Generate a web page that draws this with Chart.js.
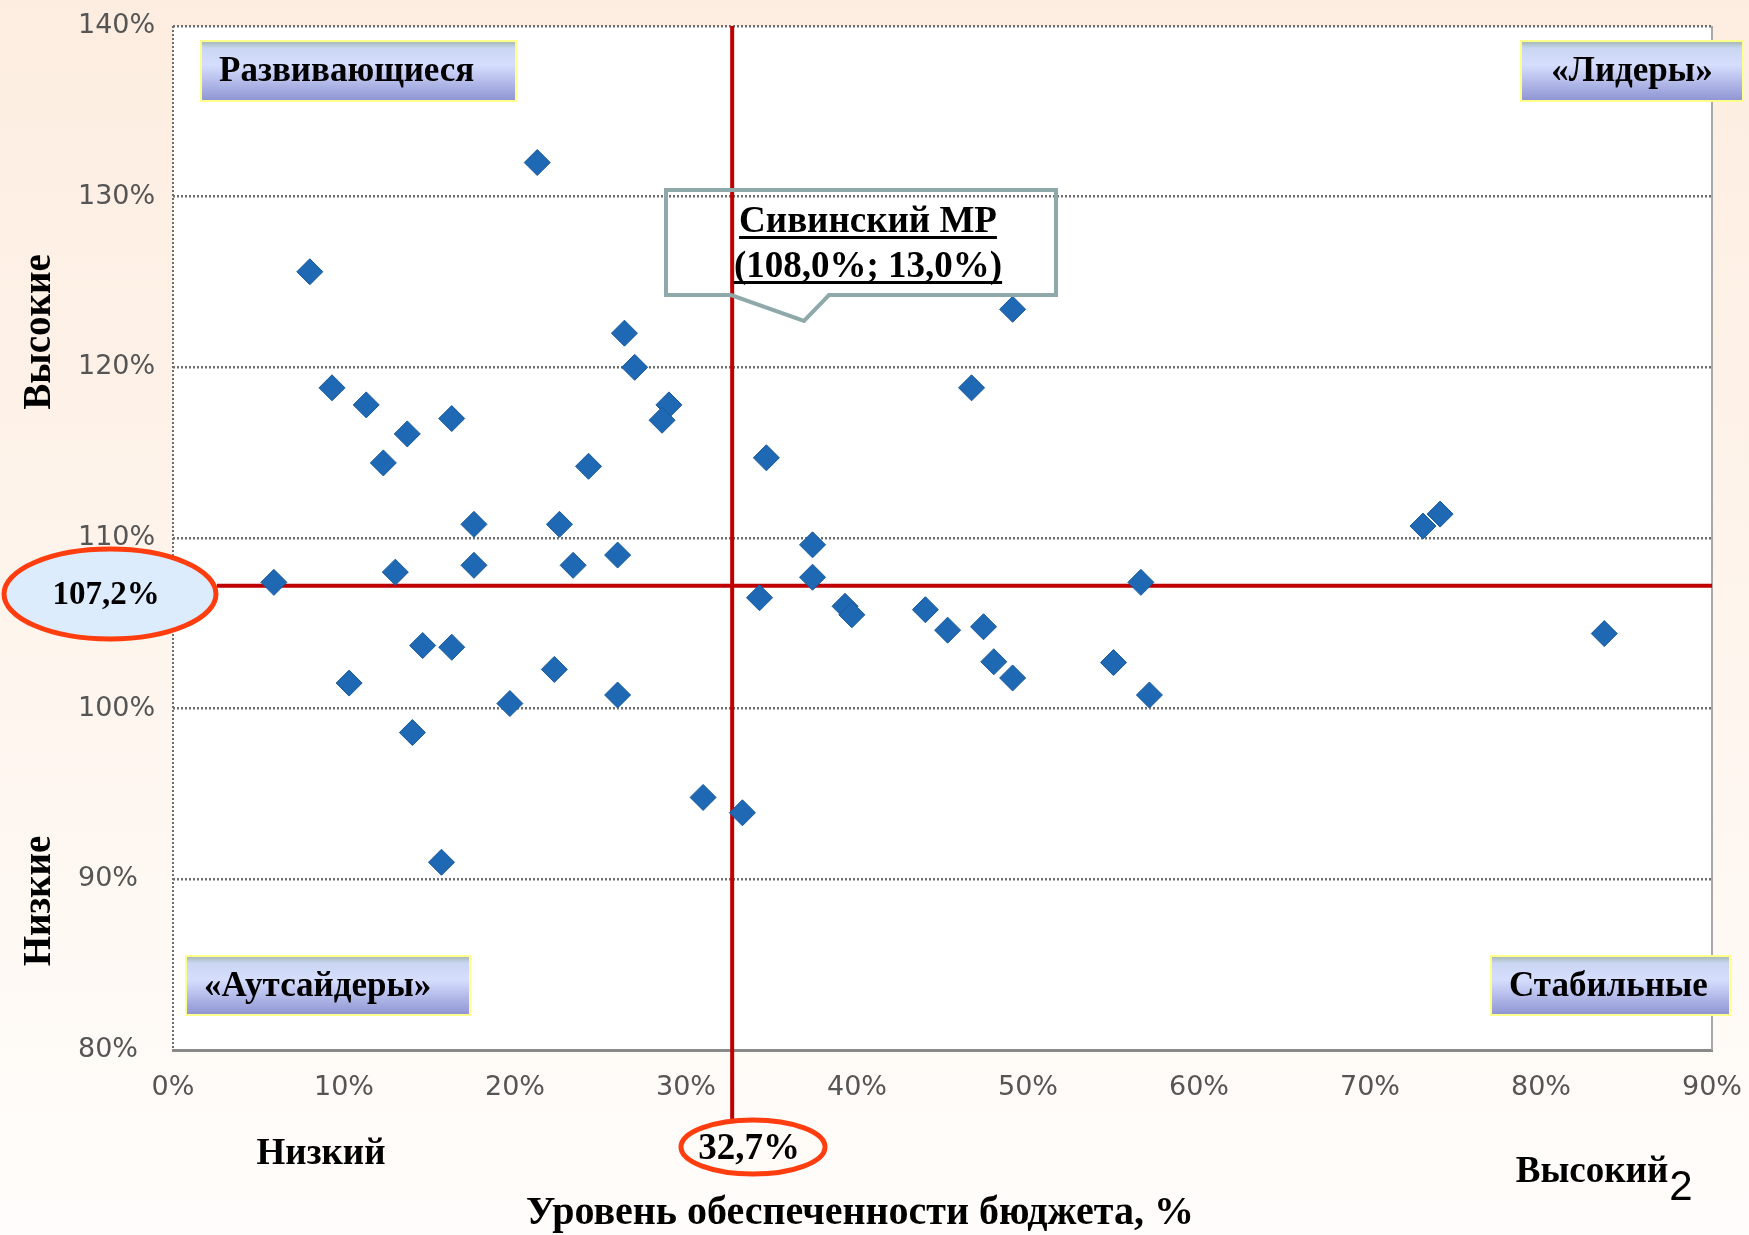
<!DOCTYPE html>
<html lang="ru">
<head>
<meta charset="utf-8">
<title>Уровень обеспеченности бюджета</title>
<script src="https://cdn.jsdelivr.net/npm/chart.js@4.4.0/dist/chart.umd.min.js"></script>
<style>
  html, body { margin: 0; padding: 0; background: #fef6ee; }
  #wrap { width: 1749px; height: 1235px; }
</style>
</head>
<body>
<div id="wrap"><canvas id="grafico" width="1749" height="1235"></canvas></div>
<script>
// Уровень обеспеченности бюджета, % (ось X)
const obespechennost = [
  8.0, 21.3, 9.3, 11.3, 13.7, 16.3, 12.3, 26.4, 27.0, 29.0, 28.6, 24.3,
  17.6, 22.6, 17.6, 13.0, 23.4, 26.0, 5.9, 14.6, 16.3, 10.3, 22.3, 19.7,
  26.0, 14.0, 15.7, 31.0, 33.3, 34.7, 34.3, 37.4, 37.4, 39.3, 39.7, 44.0,
  45.3, 47.4, 48.0, 49.1, 46.7, 49.1, 56.6, 55.0, 57.1, 73.1, 74.1, 83.7
];
// Темпы роста доходов, % (ось Y)
const tempRosta = [
  125.6, 132.0, 118.8, 117.8, 116.1, 117.0, 114.4, 122.0, 120.0, 117.8, 116.9, 114.2,
  110.8, 110.8, 108.4, 108.0, 108.4, 109.0, 107.4, 103.7, 103.6, 101.5, 102.3, 100.3,
  100.8, 98.6, 91.0, 94.8, 93.9, 114.7, 106.5, 109.6, 107.7, 106.0, 105.5, 105.8,
  104.6, 104.8, 102.75, 101.8, 118.8, 123.4, 107.4, 102.7, 100.8, 110.7, 111.4, 104.4
];
// Средние значения
const srednieX = 32.7;
const srednieY = 107.2;
const srednieXTekst = '32,7%';
const srednieYTekst = '107,2%';

// Оси
const xMin = 0, xMax = 90, xShag = 10;
const yMin = 80, yMax = 140, yShag = 10;

// Подписи квадрантов
const kvadranty = ['Развивающиеся', '«Лидеры»', '«Аутсайдеры»', 'Стабильные'];
const vynoska = ['Сивинский МР', '(108,0%; 13,0%)'];

const serif = '"Liberation Serif", "Times New Roman", serif';

// Фон слайда и белая область графика
const fonPlugin = {
  id: 'fon',
  beforeDraw(chart) {
    const {ctx, width, height, chartArea: a} = chart;
    const g = ctx.createLinearGradient(0, 0, 0, height);
    g.addColorStop(0, '#fdede0');
    g.addColorStop(0.6, '#fef6ef');
    g.addColorStop(1, '#fffdfb');
    ctx.save();
    ctx.fillStyle = g;
    ctx.fillRect(0, 0, width, height);
    ctx.fillStyle = '#ffffff';
    ctx.fillRect(a.left, a.top, a.right - a.left, a.bottom - a.top);
    ctx.restore();
  },
  beforeDatasetsDraw(chart) {
    const {ctx, chartArea: a, scales} = chart;
    const x0 = scales.x.getPixelForValue(srednieX);
    const y0 = scales.y.getPixelForValue(srednieY);
    ctx.save();
    // правая рамка
    ctx.strokeStyle = '#a9a9a9';
    ctx.lineWidth = 2;
    ctx.beginPath();
    ctx.moveTo(a.right, a.top);
    ctx.lineTo(a.right, a.bottom);
    ctx.stroke();
    // линии средних
    ctx.strokeStyle = '#c00000';
    ctx.lineWidth = 4;
    ctx.beginPath();
    ctx.moveTo(x0, a.top);
    ctx.lineTo(x0, 1120);
    ctx.moveTo(217, y0);
    ctx.lineTo(a.right, y0);
    ctx.stroke();
    ctx.restore();
  }
};

function plashka(ctx, x, y, w, h, tekst, poCentru) {
  const g = ctx.createLinearGradient(0, y, 0, y + h);
  g.addColorStop(0, '#a3b6ae');
  g.addColorStop(0.12, '#c9d6f2');
  g.addColorStop(0.4, '#d6defe');
  g.addColorStop(1, '#8d94d2');
  ctx.fillStyle = g;
  ctx.fillRect(x, y, w, h);
  ctx.strokeStyle = '#ffff8c';
  ctx.lineWidth = 2;
  ctx.strokeRect(x, y, w, h);
  ctx.fillStyle = '#000';
  ctx.font = 'bold 35px ' + serif;
  ctx.textBaseline = 'middle';
  if (poCentru) {
    ctx.textAlign = 'center';
    ctx.fillText(tekst, x + w / 2, y + h / 2 + 1);
  } else {
    ctx.textAlign = 'left';
    ctx.fillText(tekst, x + 18, y + h / 2 + 1);
  }
}

function podcherk(ctx, tekst, cx, baza) {
  ctx.fillText(tekst, cx, baza);
  const w = ctx.measureText(tekst).width;
  ctx.fillRect(cx - w / 2, baza + 4, w, 3);
}

const podpisiPlugin = {
  id: 'podpisi',
  afterDraw(chart) {
    const {ctx} = chart;
    ctx.save();

    // квадранты
    plashka(ctx, 201, 41, 315, 60, kvadranty[0], false);
    plashka(ctx, 1521, 41, 222, 60, kvadranty[1], true);
    plashka(ctx, 186, 956, 284, 59, kvadranty[2], false);
    plashka(ctx, 1491, 956, 239, 59, kvadranty[3], false);

    // выноска
    ctx.strokeStyle = '#8fa9ab';
    ctx.lineWidth = 4;
    ctx.beginPath();
    ctx.moveTo(666, 190);
    ctx.lineTo(1056, 190);
    ctx.lineTo(1056, 295);
    ctx.lineTo(829, 295);
    ctx.lineTo(804, 321);
    ctx.lineTo(731, 295);
    ctx.lineTo(666, 295);
    ctx.closePath();
    ctx.stroke();
    ctx.fillStyle = '#000';
    ctx.font = 'bold 37px ' + serif;
    ctx.textAlign = 'center';
    ctx.textBaseline = 'alphabetic';
    podcherk(ctx, vynoska[0], 868, 232);
    podcherk(ctx, vynoska[1], 868, 277);

    // эллипсы со средними
    ctx.lineWidth = 5;
    ctx.strokeStyle = '#ff3d0f';
    ctx.fillStyle = '#dcecfc';
    ctx.beginPath();
    ctx.ellipse(110, 594, 106, 45, 0, 0, Math.PI * 2);
    ctx.fill();
    ctx.stroke();
    ctx.fillStyle = '#fffcf8';
    ctx.beginPath();
    ctx.ellipse(753, 1147, 72, 27, 0, 0, Math.PI * 2);
    ctx.fill();
    ctx.stroke();

    ctx.fillStyle = '#000';
    ctx.textBaseline = 'middle';
    ctx.font = 'bold 33px ' + serif;
    ctx.fillText(srednieYTekst, 106, 595);
    ctx.font = 'bold 37px ' + serif;
    ctx.fillText(srednieXTekst, 749, 1149);

    // подписи осей
    ctx.textBaseline = 'alphabetic';
    ctx.font = 'bold 37px ' + serif;
    ctx.fillText('Низкий', 321, 1164);
    ctx.fillText('Высокий', 1592, 1182);
    ctx.font = 'bold 40px ' + serif;
    ctx.fillText('Уровень обеспеченности бюджета, %', 860, 1224);

    ctx.save();
    ctx.translate(40, 0);
    ctx.rotate(-Math.PI / 2);
    ctx.textBaseline = 'middle';
    ctx.font = 'bold 39px ' + serif;
    ctx.fillText('Высокие', -332, 0);
    ctx.fillText('Низкие', -901, 0);
    ctx.restore();

    // номер слайда
    ctx.font = '42px "Liberation Sans", Arial, sans-serif';
    ctx.fillText('2', 1681, 1200);

    ctx.restore();
  }
};

const tochki = obespechennost.map((x, i) => ({x: x, y: tempRosta[i]}));

new Chart(document.getElementById('grafico'), {
  type: 'scatter',
  data: {
    datasets: [{
      label: 'Муниципальные районы',
      data: tochki,
      pointStyle: 'rectRot',
      pointRadius: 13,
      pointHoverRadius: 13,
      backgroundColor: '#1f69b4',
      borderColor: '#185a9a',
      borderWidth: 1
    }]
  },
  options: {
    responsive: false,
    devicePixelRatio: 1,
    animation: false,
    layout: { padding: { top: 26, right: 37, left: 78, bottom: 0 } },
    plugins: {
      legend: { display: false },
      tooltip: { enabled: false }
    },
    scales: {
      x: {
        type: 'linear',
        min: xMin,
        max: xMax,
        // подписи снизу не должны сужать область графика
        afterFit: s => { s.height = 185; s.paddingLeft = 0; s.paddingRight = 0; },
        ticks: {
          stepSize: xShag,
          padding: 22,
          color: '#555555',
          font: { family: '"DejaVu Sans", Verdana, sans-serif', size: 27 },
          callback: v => v + '%'
        },
        grid: {
          drawTicks: false,
          lineWidth: 2,
          color: ctx => ctx.index === 0 ? '#6e6e6e' : 'rgba(0,0,0,0)'
        },
        border: { display: true, color: '#8a8a8a', width: 3, dash: [2, 2] }
      },
      y: {
        type: 'linear',
        min: yMin,
        max: yMax,
        // подписи слева не должны сдвигать верх области графика
        afterFit: s => { s.width = 95; s.paddingTop = 0; s.paddingBottom = 0; },
        ticks: {
          stepSize: yShag,
          padding: 17,
          crossAlign: 'far',
          color: '#555555',
          font: { family: '"DejaVu Sans", Verdana, sans-serif', size: 27 },
          callback: v => v + '%'
        },
        grid: {
          drawTicks: false,
          lineWidth: 2.5,
          color: ctx => ctx.index === 0 ? 'rgba(0,0,0,0)' : '#6e6e6e'
        },
        border: { display: false, dash: [2, 2] }
      }
    }
  },
  plugins: [fonPlugin, podpisiPlugin]
});
</script>
</body>
</html>
